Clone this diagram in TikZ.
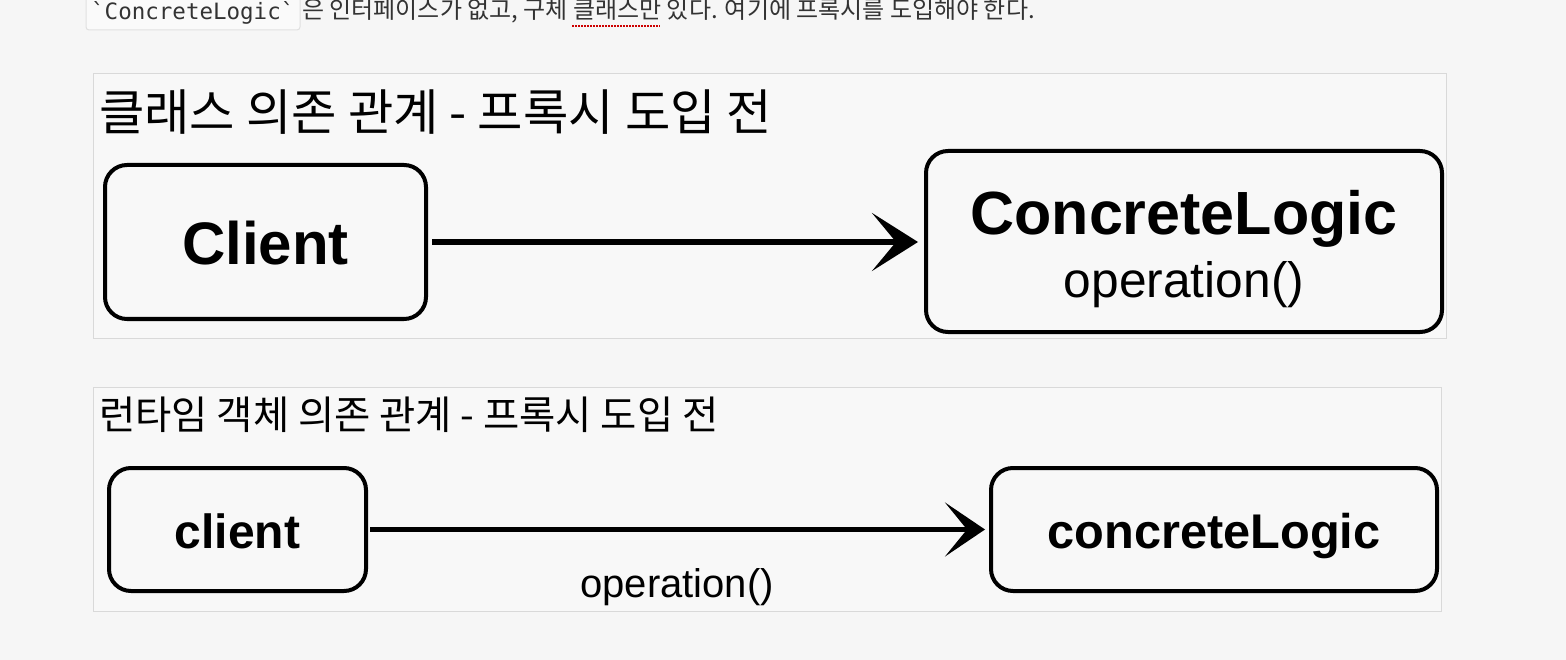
\documentclass[tikz,border=0pt]{standalone}
\usepackage{fontspec}
\setmainfont{Liberation Sans}
\newfontfamily\kr{Noto Sans CJK KR}
\newfontfamily\codefont{DejaVu Sans Mono}
\usetikzlibrary{arrows.meta}
\definecolor{bg}{HTML}{F6F6F6}
\definecolor{panelbg}{HTML}{F8F8F8}
\definecolor{panelline}{HTML}{D9D9D9}
\definecolor{codebg}{HTML}{FAFAFA}
\definecolor{codeline}{HTML}{E0E0E0}
\definecolor{txtgray}{HTML}{333333}
\tikzset{
  panel/.style={draw=panelline, fill=panelbg, line width=1pt},
  cbox/.style={draw=black, line width=4pt, rounded corners=22pt, fill=panelbg},
  bigarrow/.style={line width=5.5pt, -{Stealth[length=46pt, width=58pt, inset=24pt]}},
  smallarrow/.style={line width=5pt, -{Stealth[length=40pt, width=54pt, inset=22pt]}},
}
\begin{document}
\begin{tikzpicture}[x=1pt,y=-1pt]
\useasboundingbox[fill=bg] (0,0) rectangle (1566,660);
% top line
\node[draw=codeline, fill=codebg, rounded corners=3pt, line width=1pt, minimum width=214pt, minimum height=40pt, inner sep=0pt] (code) at (193,10) {};
\node[anchor=base west, inner sep=0pt, text=txtgray] (codetxt) at (91,20) {\codefont\fontsize{22.5}{23}\selectfont `ConcreteLogic`};
\node[anchor=base west, inner sep=0pt, text=txtgray] (toptxt) at (302,19) {\kr\fontsize{24}{25}\selectfont 은 인터페이스가 없고, 구체 클래스만 있다. 여기에 프록시를 도입해야 한다.};
\draw[red!80!black, line width=1.5pt, dash pattern=on 1.5pt off 1.5pt] (572,26) -- (660,26);
% panels
\draw[panel] (93,74) rectangle (1446,338);
\draw[panel] (93,387) rectangle (1441,611);
% titles
\node[anchor=west, inner sep=0pt] (t1) at (99,112) {\kr\fontsize{49.3}{50}\selectfont 클래스 의존 관계 - 프록시 도입 전};
\node[anchor=west, inner sep=0pt] (t2) at (99,415) {\kr\fontsize{39.4}{40}\selectfont 런타임 객체 의존 관계 - 프록시 도입 전};
% class diagram
\node[cbox, minimum width=321pt, minimum height=154pt] (client) at (265.5,242) {};
\node[anchor=base, inner sep=0pt] (clienttxt) at (265.5,265) {\bfseries\fontsize{60}{60}\selectfont Client};
\node[cbox, minimum width=516pt, minimum height=181pt] (logic) at (1184,241.5) {};
\node[anchor=base, inner sep=0pt] (logictxt) at (1184,235) {\bfseries\fontsize{61}{60}\selectfont ConcreteLogic};
\node[anchor=base, inner sep=0pt] (optxt) at (1184,298) {\fontsize{49.7}{48}\selectfont operation()};
\draw[bigarrow, shorten <=4pt, shorten >=6pt] (client.east) -- (client.east -| logic.west);
% runtime diagram
\node[cbox, minimum width=257pt, minimum height=123pt] (client2) at (237.5,529.5) {};
\node[anchor=base, inner sep=0pt] (client2txt) at (237.5,548) {\bfseries\fontsize{48}{48}\selectfont client};
\node[cbox, minimum width=446pt, minimum height=123pt] (logic2) at (1214,529.5) {};
\node[anchor=base, inner sep=0pt] (logic2txt) at (1214,548) {\bfseries\fontsize{48.7}{50}\selectfont concreteLogic};
\draw[smallarrow, shorten <=2pt, shorten >=4pt] (client2.east) -- (client2.east -| logic2.west);
\node[anchor=base, inner sep=0pt] (op2) at (677,597) {\fontsize{40}{40}\selectfont operation()};
\end{tikzpicture}
\end{document}
